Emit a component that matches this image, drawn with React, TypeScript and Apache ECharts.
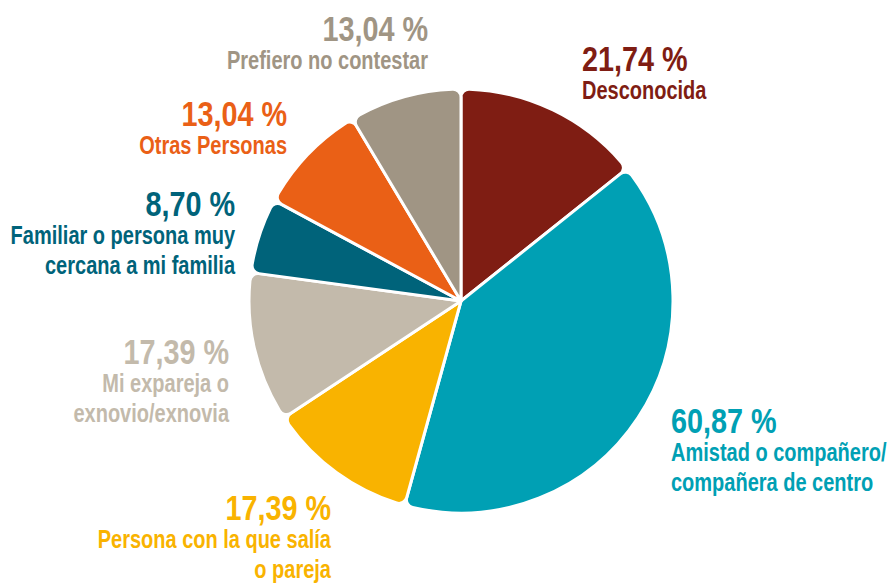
import React, { useEffect, useRef } from "react";
import * as echarts from "echarts";

const categories = [
  "Desconocida",
  "Amistad o compañero/\ncompañera de centro",
  "Persona con la que salía\no pareja",
  "Mi expareja o\nexnovio/exnovia",
  "Familiar o persona muy\ncercana a mi familia",
  "Otras Personas",
  "Prefiero no contestar",
];
const values = [21.74, 60.87, 17.39, 17.39, 8.7, 13.04, 13.04];
const colors = ["#7F1D13", "#00A0B4", "#F9B300", "#C3BAAB", "#00637A", "#EA6016", "#A09584"];
// label anchors: [x, y, align]
const labelPos: [number, number, string][] = [
  [582, 40, "left"],
  [671, 402, "left"],
  [331, 489, "right"],
  [229, 333, "right"],
  [235, 185, "right"],
  [287, 95, "right"],
  [428, 10, "right"],
];

const FONT = "'Liberation Sans', Arial, sans-serif";
const NARROW = 0.8;

export default function App() {
  const ref = useRef<HTMLDivElement>(null);
  useEffect(() => {
    const chart = echarts.init(ref.current!, null, { renderer: "svg" });
    const graphics = categories.map((name, i) => {
      const [x, y, align] = labelPos[i];
      const v = values[i].toFixed(2).replace(".", ",") + " %";
      const lines = name.split("\n").map((l) => `{n|${l}}`).join("\n");
      return {
        type: "text",
        x,
        y,
        scaleX: NARROW,
        style: {
          text: `{v|${v}}\n${lines}`,
          align,
          verticalAlign: "top",
          fill: colors[i],
          rich: {
            v: { fontFamily: FONT, fontWeight: "bold", fontSize: 36, lineHeight: 36, fill: colors[i], align },
            n: { fontFamily: FONT, fontWeight: "bold", fontSize: 25, lineHeight: 30, fill: colors[i], align },
          },
        },
      };
    });
    chart.setOption({
      animation: false,
      backgroundColor: "#ffffff",
      graphic: graphics,
      series: [
        {
          type: "pie",
          center: [461, 301],
          radius: [0, 212],
          startAngle: 90,
          clockwise: true,
          itemStyle: { borderColor: "#ffffff", borderWidth: 3, borderRadius: 8 },
          labelLine: { show: false },
          label: { show: false },
          emphasis: { disabled: true },
          data: categories.map((name, i) => ({
            name,
            value: values[i],
            itemStyle: { color: colors[i] },
          })),
        },
      ],
    });
    return () => chart.dispose();
  }, []);
  return <div ref={ref} style={{ width: 888, height: 586, position: "absolute", left: 0, top: 0 }} />;
}
